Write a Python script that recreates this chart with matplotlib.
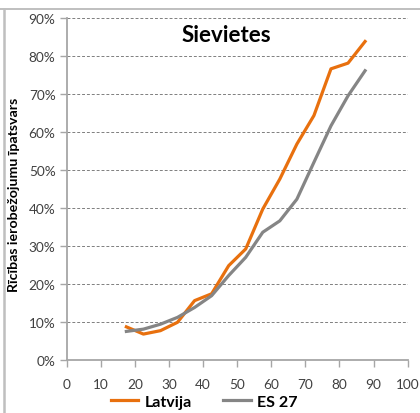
import matplotlib
matplotlib.use("Agg")
import matplotlib.pyplot as plt
from matplotlib.lines import Line2D
from matplotlib.ticker import PercentFormatter, MultipleLocator

# Age group midpoints and share of population with activity limitations (%)
ages = [17.5, 22.5, 27.5, 32.5, 37.5, 42.5, 47.5, 52.5, 57.5, 62.5, 67.5, 72.5, 77.5, 82.5, 87.5]
latvija = [8.8, 6.9, 7.8, 10.0, 15.7, 17.5, 24.9, 29.3, 39.8, 47.7, 56.9, 64.4, 76.7, 78.2, 83.9]
es27 = [7.6, 8.2, 9.5, 11.3, 13.9, 17.0, 22.3, 27.1, 33.7, 36.7, 42.4, 52.1, 61.7, 69.6, 76.2]

title = "Sievietes"
ylabel = "Rīcības ierobežojumu īpatsvars"
series_names = ["Latvija", "ES 27"]

ORANGE = "#E8700E"
GREY = "#858585"
AXIS = "#A6A6A6"

plt.rcParams["font.family"] = ["Lato", "DejaVu Sans"]

fig = plt.figure(figsize=(4.2, 4.14), dpi=100)
ax = fig.add_axes([0.1588, 0.1273, 0.8119, 0.8261])

ax.plot(ages, latvija, color=ORANGE, lw=2.3, solid_joinstyle="round", zorder=3)
ax.plot(ages, es27, color=GREY, lw=2.3, solid_joinstyle="round", zorder=3)

ax.set_xlim(0, 100)
ax.set_ylim(0, 90)
ax.xaxis.set_major_locator(MultipleLocator(10))
ax.yaxis.set_major_locator(MultipleLocator(10))
ax.yaxis.set_major_formatter(PercentFormatter(decimals=0))

for t in ax.get_yticks():
    if 0 < t <= 90:
        ax.axhline(t, color="#7F7F7F", lw=0.7, ls=(0, (3, 2)), zorder=1)

for s in ["top", "right"]:
    ax.spines[s].set_visible(False)
for s in ["left", "bottom"]:
    ax.spines[s].set_color(AXIS)
    ax.spines[s].set_linewidth(1.3)

ax.tick_params(axis="both", colors=AXIS, length=5, width=1.0, labelsize=9.8,
               labelcolor="#404040")
ax.tick_params(axis="x", pad=8)
ax.tick_params(axis="y", pad=3)

ax.set_ylabel(ylabel, fontsize=10.2, fontweight="bold", color="black")
ax.yaxis.set_label_coords(-0.137, 0.486)
ax.text(0.469, 0.952, title, transform=ax.transAxes, ha="center", va="center",
        fontsize=16, fontweight="bold", color="black")

handles = [Line2D([], [], color=ORANGE, lw=2.3), Line2D([], [], color=GREY, lw=2.3)]
fig.legend(handles, series_names, loc="center", bbox_to_anchor=(0.486, 0.027),
           ncol=2, frameon=False, prop={"weight": "bold", "size": 11.5},
           handlelength=1.7, handletextpad=0.4, columnspacing=2.0)

# Chart frame edges
fig.add_artist(Line2D([0.0, 1.0], [1 - 10 / 414, 1 - 10 / 414], color="#BFBFBF",
                      lw=1.4, transform=fig.transFigure))
fig.add_artist(Line2D([3.5 / 420, 3.5 / 420], [0, 1 - 10 / 414], color="#BFBFBF",
                      lw=1.8, transform=fig.transFigure))

fig.savefig("out.png", dpi=100)
